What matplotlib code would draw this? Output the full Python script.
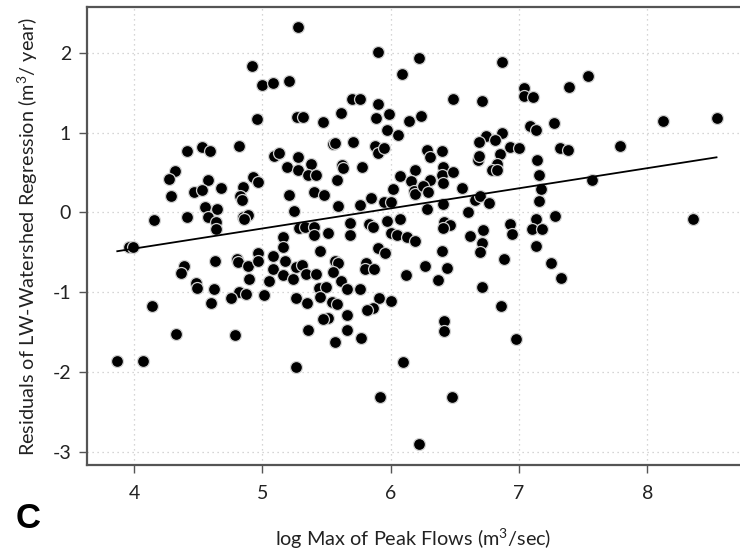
import numpy as np
import matplotlib
matplotlib.use("Agg")
import matplotlib.pyplot as plt

plt.rcParams['font.family'] = ['Lato', 'DejaVu Sans']
plt.rcParams['mathtext.fontset'] = 'custom'
plt.rcParams['mathtext.rm'] = 'Lato'
plt.rcParams['mathtext.it'] = 'Lato'
plt.rcParams['axes.unicode_minus'] = False

# log max peak flow (x) and residuals (y)
x_vals = [
    5.28, 4.92, 5.00, 5.08, 5.21, 4.96, 5.27, 5.32, 4.41, 4.53,
    4.59, 4.82, 4.32, 4.27, 4.58, 4.29, 4.47, 4.53, 4.68, 4.55,
    4.65, 4.41, 4.58, 4.64, 4.64, 4.16, 5.09, 5.13, 5.19, 5.28,
    5.28, 4.85, 4.83, 4.84, 4.93, 4.97, 5.21, 5.25, 4.85, 4.89,
    4.86, 5.16, 5.29,
    5.90, 6.22, 6.87, 6.09, 5.70, 5.76, 5.90, 6.49, 6.71, 5.47,
    5.61, 5.89, 5.99, 6.14, 6.24, 5.97, 6.06, 6.87, 6.74, 6.69,
    6.81, 6.93, 5.55, 5.57, 5.71, 5.88, 5.90, 5.95, 6.28, 6.40,
    6.31, 5.38, 5.36, 5.42, 5.62, 5.63, 5.78, 5.58, 6.07, 6.19,
    6.16, 6.31, 6.41, 6.40, 6.41, 6.49, 6.68, 6.69, 6.85, 6.83,
    6.79, 6.83, 6.02, 6.18, 6.19, 6.25, 6.29, 6.56, 6.66, 6.70,
    6.77, 5.40, 5.48, 5.59, 5.76, 5.85, 5.95, 6.00, 6.28, 6.41,
    6.60, 5.33, 5.40, 5.40, 5.51, 5.68, 5.68, 5.83, 5.86, 5.97,
    6.07, 6.00, 6.05, 6.13, 6.19, 6.42, 6.46, 6.41, 6.62, 6.72,
    6.93,
    7.54, 7.39, 7.04, 7.04, 7.11, 7.09, 7.13, 7.27, 8.12, 8.54,
    7.00, 7.32, 7.38, 7.79, 7.14, 7.16, 7.57, 7.17, 7.16, 7.28,
    7.13, 7.10, 7.18, 6.95, 8.36,
    3.96, 3.99, 4.39, 4.37, 4.48, 4.49, 4.63, 4.62, 4.60, 4.14,
    4.80, 4.81, 4.89, 4.97, 4.97, 5.08, 5.16, 5.18, 5.26, 5.08,
    5.16, 5.24, 4.90, 5.05, 4.82, 4.87, 4.76, 5.01, 5.26, 4.33,
    4.79, 3.87, 4.07, 5.26,
    6.71, 6.70, 6.88, 5.45, 5.90, 5.96, 6.40, 6.27, 6.44, 6.12,
    6.37, 6.71, 6.86, 5.31, 5.34, 5.42, 5.57, 5.59, 5.55, 5.61,
    5.81, 5.80, 5.87, 5.66, 5.76, 5.44, 5.50, 5.45, 5.35, 5.54,
    5.58, 5.91, 6.00, 5.86, 5.82, 5.66, 5.51, 5.47, 5.36, 5.66,
    5.57, 5.77, 6.42, 6.42, 6.10, 5.92, 6.48, 6.22, 7.13, 7.25,
    7.33, 6.98,
]
y_vals = [
    2.32, 1.83, 1.60, 1.62, 1.64, 1.17, 1.19, 1.19, 0.77, 0.82,
    0.77, 0.83, 0.52, 0.42, 0.40, 0.21, 0.25, 0.28, 0.30, 0.07,
    0.04, -0.06, -0.06, -0.12, -0.21, -0.10, 0.70, 0.74, 0.57, 0.69,
    0.53, 0.32, 0.20, 0.15, 0.44, 0.38, 0.22, 0.02, -0.06, -0.03,
    -0.09, -0.31, -0.20,
    2.01, 1.94, 1.88, 1.73, 1.42, 1.42, 1.36, 1.42, 1.39, 1.13,
    1.24, 1.18, 1.23, 1.15, 1.21, 1.03, 0.97, 1.00, 0.96, 0.88,
    0.91, 0.82, 0.85, 0.87, 0.88, 0.83, 0.74, 0.80, 0.78, 0.77,
    0.69, 0.61, 0.47, 0.47, 0.59, 0.55, 0.57, 0.40, 0.45, 0.53,
    0.39, 0.41, 0.57, 0.47, 0.37, 0.50, 0.66, 0.70, 0.73, 0.61,
    0.53, 0.53, 0.29, 0.27, 0.23, 0.33, 0.25, 0.30, 0.16, 0.20,
    0.12, 0.25, 0.22, 0.08, 0.09, 0.18, 0.13, 0.13, 0.04, 0.11,
    0.00, -0.19, -0.18, -0.28, -0.26, -0.13, -0.28, -0.15, -0.19, -0.11,
    -0.08, -0.26, -0.28, -0.31, -0.36, -0.12, -0.16, -0.20, -0.30, -0.22,
    -0.15,
    1.71, 1.57, 1.56, 1.46, 1.44, 1.08, 1.03, 1.12, 1.15, 1.18,
    0.81, 0.81, 0.78, 0.83, 0.65, 0.47, 0.41, 0.29, 0.14, -0.05,
    -0.08, -0.21, -0.21, -0.27, -0.08,
    -0.44, -0.44, -0.67, -0.76, -0.88, -0.95, -0.61, -0.96, -1.14, -1.18,
    -0.59, -0.62, -0.67, -0.51, -0.61, -0.55, -0.44, -0.61, -0.68, -0.71,
    -0.78, -0.84, -0.84, -0.86, -1.00, -1.03, -1.07, -1.04, -1.07, -1.53,
    -1.54, -1.86, -1.86, -1.94,
    -0.38, -0.50, -0.59, -0.48, -0.45, -0.51, -0.48, -0.67, -0.70, -0.79,
    -0.85, -0.93, -1.18, -0.66, -0.77, -0.77, -0.61, -0.63, -0.75, -0.86,
    -0.63, -0.71, -0.71, -0.96, -0.96, -0.95, -0.94, -1.06, -1.14, -1.13,
    -1.15, -1.08, -1.11, -1.20, -1.22, -1.29, -1.32, -1.34, -1.48, -1.48,
    -1.63, -1.57, -1.36, -1.49, -1.87, -2.32, -2.32, -2.91, -0.42, -0.63,
    -0.82, -1.59,
]

# fitted regression line
fit_slope = 0.252
fit_intercept = -1.463

x_ticks = [4, 5, 6, 7, 8]
y_ticks = [-3, -2, -1, 0, 1, 2]

x = np.array(x_vals)
y = np.array(y_vals)

fig = plt.figure(figsize=(7.4, 5.51), dpi=100)
ax = fig.add_axes([87 / 740, 86 / 551, 653 / 740, 458 / 551])

# grid
ax.grid(True, color='#c8c8c8', linestyle=(0, (1, 3)), linewidth=0.9)
ax.set_axisbelow(True)

# points
ax.scatter(x, y, s=74, color='black', edgecolors='#d0d0d0', linewidths=0.9, zorder=3)

# regression line over the data range
line_x = np.array([x.min(), x.max()])
ax.plot(line_x, fit_intercept + fit_slope * line_x, color='black', linewidth=1.3, zorder=4)

ax.set_xlim(3.634, 8.723)
ax.set_ylim(-3.167, 2.573)
ax.set_xticks(x_ticks)
ax.set_yticks(y_ticks)

for side in ['left', 'bottom', 'top']:
    ax.spines[side].set_color('#555555')
    ax.spines[side].set_linewidth(1.6)
ax.spines['right'].set_visible(False)

ax.tick_params(axis='both', direction='out', length=5.5, width=1.0, color='#555555',
               labelsize=14, labelcolor='#222222')
ax.tick_params(axis='x', pad=9)
ax.tick_params(axis='y', pad=6)

ax.set_xlabel('log Max of Peak Flows (m$^{3}$/sec)', fontsize=14.3, color='#222222', labelpad=18)
ax.set_ylabel('Residuals of LW-Watershed Regression (m$^{3}$/ year)', fontsize=14.3,
              color='#222222', labelpad=9)

fig.text(28 / 740, 1 - 519 / 551, 'C', fontsize=25, fontweight='bold',
         family='Liberation Sans', ha='center', va='center')

fig.savefig('out.png', dpi=100)
